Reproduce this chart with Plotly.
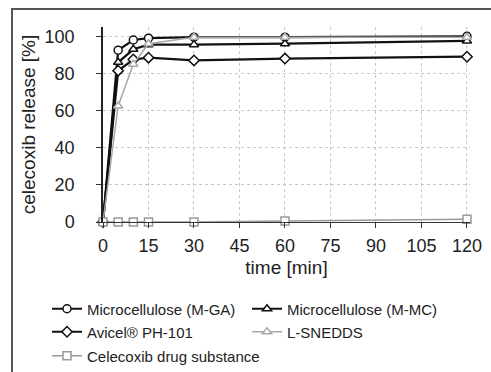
import plotly.graph_objects as go

time = [0, 5, 10, 15, 30, 60, 120]
m_ga = [0, 92.5, 98, 99, 99.5, 99.5, 100]
m_mc = [0, 86, 93, 95.5, 95.5, 96, 97.5]
avicel = [0, 81.5, 87.5, 88.5, 87, 88, 89]
l_snedds = [0, 62.5, 85, 96, 99.5, 99.5, 99.5]
celecoxib = [0, 0, 0, 0, 0, 0.5, 1.5]

names = ["Microcellulose (M-GA)", "Microcellulose (M-MC)", "Avicel® PH-101",
         "L-SNEDDS", "Celecoxib drug substance"]
values = [m_ga, m_mc, avicel, l_snedds, celecoxib]
colors = ["#111111", "#111111", "#111111", "#a8a8a8", "#999999"]
symbols = ["circle", "triangle-up", "diamond", "triangle-up", "square"]
widths = [2.2, 2.2, 2.2, 1.5, 1.5]
# legend placement (left px of entry, row centre px)
leg_pos = [(47, 309), (247, 309), (47, 332), (247, 332), (47, 356)]

W, H = 491, 372
l, r, t, b = 103, 21, 27, 150
pw, ph = W - l - r, H - t - b

fig = go.Figure()
legends = {}
for i, (name, vals, col, sym, lw) in enumerate(zip(names, values, colors, symbols, widths)):
    lg = "legend" if i == 0 else f"legend{i + 1}"
    fig.add_trace(go.Scatter(
        x=time, y=vals, name=name, mode="lines+markers",
        line=dict(color=col, width=lw),
        marker=dict(symbol=sym, size=8, color="white",
                    line=dict(color=col, width=1.5)),
        cliponaxis=False, legend=lg,
    ))
    lx, ly = leg_pos[i]
    legends[lg] = dict(
        orientation="h", xref="container", yref="container",
        xanchor="left", yanchor="middle",
        x=lx / W, y=1 - ly / H,
        font=dict(size=15, color="#222222"), bgcolor="rgba(0,0,0,0)",
        itemclick=False, borderwidth=0,
    )

def px_x(p):
    return (p - l) / pw

def px_y(p):
    return (H - b - p) / ph

fig.add_shape(type="rect", xref="paper", yref="paper",
              x0=px_x(12), x1=px_x(500), y0=px_y(9), y1=px_y(390),
              line=dict(color="#555555", width=2), fillcolor="rgba(0,0,0,0)",
              layer="below")

font_family = "Liberation Sans, Arial, sans-serif"
fig.update_layout(
    width=W, height=H,
    margin=dict(l=l, r=r, t=t, b=b, autoexpand=False),
    paper_bgcolor="white", plot_bgcolor="white",
    font=dict(family=font_family, color="#222222"),
    xaxis=dict(
        range=[0, 121], tickvals=[0, 15, 30, 45, 60, 75, 90, 105, 120],
        showgrid=True, gridcolor="#c8c8c8", griddash="dot", gridwidth=1,
        zeroline=False, showline=True, linecolor="#333333", linewidth=1,
        ticks="outside", ticklen=5, tickcolor="#333333", ticklabelstandoff=2,
        tickfont=dict(size=18), title=dict(text="time [min]", font=dict(size=19), standoff=6),
    ),
    yaxis=dict(
        range=[0, 105], tickvals=[0, 20, 40, 60, 80, 100],
        showgrid=True, gridcolor="#c8c8c8", griddash="dot", gridwidth=1,
        zeroline=False, showline=True, linecolor="#222222", linewidth=1.5,
        ticks="outside", ticklen=5, tickcolor="#333333", ticklabelstandoff=18,
        tickfont=dict(size=18), title=dict(text="celecoxib release [%]", font=dict(size=19), standoff=4),
    ),
    showlegend=True,
    **legends,
)

fig.write_html("out.html")
